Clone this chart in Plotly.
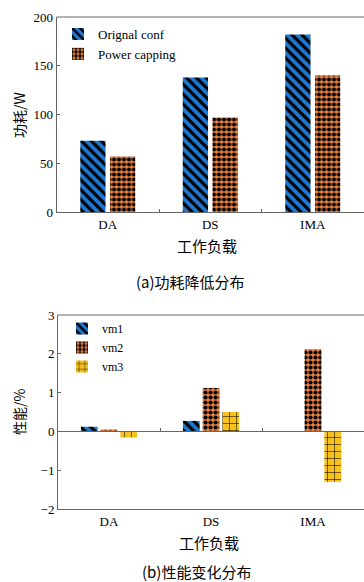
import plotly.graph_objects as go

W, H = 364, 582

categories = ["DA", "DS", "IMA"]
power_series = ["Orignal conf", "Power capping"]
power_orig = [73, 138, 182]
power_cap = [57, 97, 140]

perf_series = ["vm1", "vm2", "vm3"]
perf_vm1 = [0.12, 0.27, 0.0]
perf_vm2 = [0.05, 1.12, 2.12]
perf_vm3 = [-0.15, 0.50, -1.30]

top_yticks = [0, 50, 100, 150, 200]
bot_yticks = [-2, -1, 0, 1, 2, 3]
bot_yticklabels = ["\u22122", "\u22121", "0", "1", "2", "3"]

BLUE = "#1e78d2"
ORANGE = "#ea7f3c"
YELLOW = "#f7c21c"
AX = "#666666"

SERIF = "Liberation Serif, DejaVu Serif, serif"
CJK = "Noto Sans CJK SC, sans-serif"

def fy(p):
    return 1 - p / H

fig = go.Figure()

pat_blue = dict(shape="\\", fgcolor="black", bgcolor=BLUE, size=7, solidity=0.45)
pat_orange = dict(shape=".", fgcolor="black", bgcolor=ORANGE, size=5, solidity=0.55)
pat_yellow = dict(shape="+", fgcolor="black", bgcolor=YELLOW, size=7, solidity=0.15)

fig.add_trace(go.Bar(x=categories, y=power_orig, name=power_series[0],
                     marker=dict(color=BLUE, pattern=pat_blue, line=dict(width=0)),
                     xaxis="x", yaxis="y", legend="legend"))
fig.add_trace(go.Bar(x=categories, y=power_cap, name=power_series[1],
                     marker=dict(color=ORANGE, pattern=pat_orange, line=dict(width=0)),
                     xaxis="x", yaxis="y", legend="legend"))

for name, vals, col, pat in [(perf_series[0], perf_vm1, BLUE, pat_blue),
                             (perf_series[1], perf_vm2, ORANGE, pat_orange),
                             (perf_series[2], perf_vm3, YELLOW, pat_yellow)]:
    fig.add_trace(go.Bar(x=categories, y=vals, name=name,
                         marker=dict(color=col, pattern=pat, line=dict(width=0)),
                         xaxis="x2", yaxis="y2", legend="legend2"))

# invisible trace for zero-line boundary ticks in bottom chart
fig.add_trace(go.Scatter(x=categories, y=[0, 0, 0], mode="markers",
                         marker=dict(opacity=0), showlegend=False,
                         hoverinfo="skip", xaxis="x3", yaxis="y2"))

top_dom = [fy(212), fy(17)]
bot_dom = [fy(509), fy(315)]

axis_common = dict(showgrid=False, zeroline=False, showline=True, linecolor=AX,
                   linewidth=1, ticks="inside", ticklen=3, tickcolor=AX,
                   automargin=False,
                   tickfont=dict(family=SERIF, size=13, color="black"))

fig.update_layout(
    template="none",
    width=W, height=H, margin=dict(l=0, r=0, t=0, b=0, pad=0),
    paper_bgcolor="white", plot_bgcolor="white",
    barmode="group",
    bargap=0.42, bargroupgap=0.15,
    xaxis=dict(domain=[56.5 / W, 1], anchor="y", range=[-0.5, 2.5],
               tickson="boundaries", **axis_common),
    yaxis=dict(domain=top_dom, anchor="x", range=[0, 200], tickvals=top_yticks,
               **axis_common),
    xaxis2=dict(domain=[58 / W, 1], anchor="y2", range=[-0.5, 2.5],
                tickson="boundaries", **{**axis_common, "ticks": ""}),
    yaxis2=dict(domain=bot_dom, anchor="x2", range=[-2, 3], tickvals=bot_yticks,
                ticktext=bot_yticklabels, **axis_common),
    xaxis3=dict(overlaying="x2", anchor="free",
                position=bot_dom[0] + (bot_dom[1] - bot_dom[0]) * 2 / 5,
                range=[-0.5, 2.5], tickson="boundaries", showticklabels=False,
                showgrid=False, zeroline=False, showline=True, linecolor=AX,
                automargin=False,
                ticks="inside", ticklen=3, tickcolor=AX),
    legend=dict(x=58 / W, y=fy(19), xanchor="left", yanchor="top",
                bgcolor="rgba(0,0,0,0)", font=dict(family=SERIF, size=13, color="black"),
                tracegroupgap=0, itemwidth=30),
    legend2=dict(x=62 / W, y=fy(314), xanchor="left", yanchor="top",
                 bgcolor="rgba(0,0,0,0)", font=dict(family=SERIF, size=12, color="black"),
                 tracegroupgap=0, itemwidth=30),
    showlegend=True,
)

# top border lines (box top)
fig.add_shape(type="line", xref="paper", yref="paper", x0=56.5 / W, x1=1,
              y0=top_dom[1], y1=top_dom[1], line=dict(color=AX, width=1))
fig.add_shape(type="line", xref="paper", yref="paper", x0=58 / W, x1=1,
              y0=bot_dom[1], y1=bot_dom[1], line=dict(color=AX, width=1))

ann = [
    ("功耗/W", 19, 115, -90, 14),
    ("工作负载", 207, 245, 0, 15),
    ("(a)功耗降低分布", 190, 281, 0, 15),
    ("性能/%", 19, 412, -90, 14),
    ("工作负载", 209, 542, 0, 15),
    ("(b)性能变化分布", 196, 571, 0, 15),
]
for text, px, py, ang, sz in ann:
    fig.add_annotation(text=text, xref="paper", yref="paper", x=px / W, y=fy(py),
                       xanchor="center", yanchor="middle", textangle=ang,
                       showarrow=False, font=dict(family=CJK, size=sz, color="black"))

fig.write_html(
    "out.html",
    config={"displayModeBar": False},
    post_script="document.body.style.margin='0';document.body.style.overflow='hidden';",
)
